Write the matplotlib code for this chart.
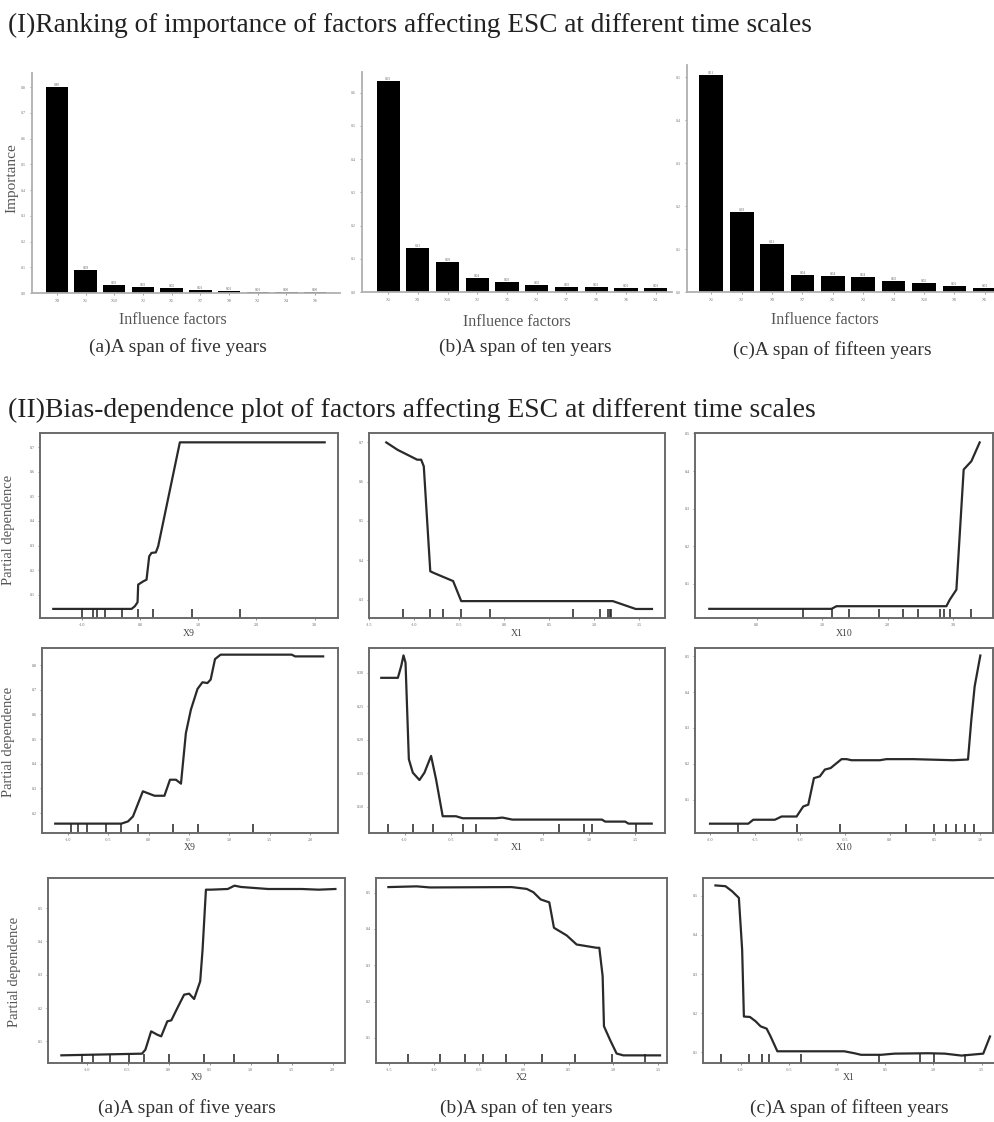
import numpy as np
import matplotlib.pyplot as plt

plt.rcParams['font.family'] = ['Liberation Serif', 'DejaVu Serif']

# ---- (I) importance bars ----
imp5_names = ['X9', 'X1', 'X10', 'X2', 'X5', 'X7', 'X8', 'X3', 'X4', 'X6']
imp5_vals = [0.80, 0.09, 0.030, 0.025, 0.021, 0.013, 0.008, 0.005, 0.004, 0.003]
imp10_names = ['X1', 'X9', 'X10', 'X2', 'X5', 'X3', 'X7', 'X8', 'X6', 'X4']
imp10_vals = [0.634, 0.132, 0.089, 0.042, 0.030, 0.020, 0.016, 0.014, 0.012, 0.012]
imp15_names = ['X1', 'X2', 'X9', 'X7', 'X5', 'X3', 'X4', 'X10', 'X8', 'X6']
imp15_vals = [0.505, 0.187, 0.113, 0.039, 0.037, 0.035, 0.025, 0.020, 0.014, 0.009]
imp_captions = ['(a)A span of five years', '(b)A span of ten years', '(c)A span of fifteen years']

# ---- (II) partial dependence curves ----
pd1a_x = [-1.486, -0.143, -0.086, -0.04, -0.029, 0.057, 0.114, 0.16, 0.2, 0.274, 0.314, 0.686, 3.171]
pd1a_y = [0.042, 0.042, 0.053, 0.069, 0.141, 0.154, 0.161, 0.256, 0.270, 0.272, 0.297, 0.720, 0.720]
pd1a_dec = [-1, -0.8, -0.743, -0.6, -0.314, -0.029, 0.217, 0.903, 1.714]

pd1b_x = [-1.308, -1.181, -0.964, -0.920, -0.891, -0.819, -0.783, -0.565, -0.475, -0.239, 0.304, 1.210, 1.464, 1.645]
pd1b_y = [0.700, 0.681, 0.656, 0.656, 0.639, 0.372, 0.368, 0.347, 0.296, 0.296, 0.296, 0.296, 0.276, 0.276]
pd1b_dec = [-1.127, -0.819, -0.674, -0.482, -0.159, 0.768, 1.072, 1.156, 1.174, 1.192]

pd1c_x = [-0.721, 1.142, 1.218, 2.893, 2.944, 3.046, 3.157, 3.274, 3.401]
pd1c_y = [0.034, 0.034, 0.041, 0.041, 0.058, 0.085, 0.404, 0.426, 0.476]
pd1c_dec = [0.701, 1.142, 1.411, 1.868, 2.234, 2.462, 2.792, 2.853, 2.954, 3.274]

pd2a_x = [-1.156, -0.336, -0.254, -0.193, -0.070, 0.074, 0.197, 0.266, 0.340, 0.402, 0.463,
          0.525, 0.607, 0.668, 0.730, 0.770, 0.824, 0.893, 1.775, 1.816, 2.164]
pd2a_y = [0.157, 0.157, 0.166, 0.186, 0.288, 0.270, 0.270, 0.335, 0.335, 0.319, 0.524,
          0.619, 0.703, 0.730, 0.727, 0.741, 0.824, 0.842, 0.842, 0.835, 0.835]
pd2a_dec = [-0.959, -0.869, -0.758, -0.529, -0.336, -0.131, 0.307, 0.619, 1.291]

pd2b_x = [-1.252, -1.072, -1.036, -1.011, -0.989, -0.953, -0.910, -0.838, -0.784, -0.712, -0.658, -0.586,
          -0.442, -0.370, -0.011, 0.061, 0.169, 0.709, 1.140, 1.176, 1.392, 1.428, 1.680]
pd2b_y = [0.2925, 0.2925, 0.310, 0.326, 0.315, 0.171, 0.151, 0.140, 0.151, 0.176, 0.141, 0.086,
          0.086, 0.083, 0.083, 0.084, 0.081, 0.081, 0.081, 0.078, 0.078, 0.075, 0.075]
pd2b_dec = [-1.180, -0.910, -0.687, -0.370, -0.227, 0.680, 0.942, 1.032, 1.507]

pd2c_x = [-2.0, -1.574, -1.519, -1.278, -1.204, -1.037, -0.963, -0.907, -0.844, -0.778, -0.722, -0.659,
          -0.537, -0.481, -0.426, -0.111, -0.037, 0.259, 0.704, 0.870, 0.907, 0.944, 1.007]
pd2c_y = [0.033, 0.033, 0.044, 0.044, 0.053, 0.053, 0.081, 0.086, 0.160, 0.165, 0.184, 0.188,
          0.213, 0.213, 0.210, 0.210, 0.213, 0.213, 0.210, 0.212, 0.323, 0.416, 0.502]
pd2c_dec = [-1.685, -1.030, -0.556, 0.178, 0.489, 0.630, 0.733, 0.833, 0.933]

pd3a_x = [-1.307, -0.324, -0.283, -0.213, -0.139, -0.090, -0.016, 0.033, 0.107, 0.189, 0.250, 0.311,
          0.385, 0.414, 0.455, 0.516, 0.721, 0.803, 0.885, 1.213, 1.623, 1.828, 2.033]
pd3a_y = [0.058, 0.063, 0.075, 0.130, 0.120, 0.115, 0.160, 0.163, 0.200, 0.240, 0.243, 0.227,
          0.280, 0.375, 0.555, 0.555, 0.557, 0.567, 0.563, 0.557, 0.557, 0.555, 0.557]
pd3a_dec = [-1.061, -0.926, -0.713, -0.488, -0.303, 0.004, 0.434, 0.803, 1.336]

pd3b_x = [-1.511, -1.195, -1.046, -0.136, 0.032, 0.106, 0.188, 0.284, 0.336, 0.478, 0.589, 0.812,
          0.842, 0.879, 0.894, 0.961, 1.035, 1.110, 1.519]
pd3b_y = [0.515, 0.517, 0.514, 0.515, 0.510, 0.501, 0.481, 0.473, 0.403, 0.382, 0.357, 0.348,
          0.348, 0.270, 0.132, 0.095, 0.057, 0.052, 0.052]
pd3b_dec = [-1.288, -0.935, -0.656, -0.452, -0.199, 0.199, 0.571, 0.980, 1.351]

pd3c_x = [-1.260, -1.156, -1.087, -1.017, -0.983, -0.965, -0.903, -0.844, -0.792, -0.729, -0.688, -0.618,
          -0.375, 0.076, 0.181, 0.250, 0.458, 0.597, 0.944, 1.118, 1.292, 1.517, 1.587]
pd3c_y = [0.527, 0.525, 0.512, 0.495, 0.362, 0.191, 0.190, 0.179, 0.166, 0.160, 0.140, 0.102,
          0.102, 0.102, 0.097, 0.093, 0.093, 0.096, 0.097, 0.096, 0.091, 0.096, 0.140]
pd3c_dec = [-1.198, -0.913, -0.774, -0.705, -0.375, 0.441, 0.858, 1.007, 1.326]

pd_features = [['X9', 'X1', 'X10'], ['X9', 'X1', 'X10'], ['X9', 'X2', 'X1']]

W, H = 995, 1122
fig = plt.figure(figsize=(W / 100, H / 100), dpi=100)


def px_axes(l, t, r, b):
    return fig.add_axes([l / W, 1 - b / H, (r - l) / W, (b - t) / H])


def tx(x, y, s, **kw):
    fig.text(x / W, 1 - y / H, s, **kw)


tx(8, 25, '(I)Ranking of importance of factors affecting ESC at different time scales',
   fontsize=19.6, color='#222222', va='center', ha='left')
tx(8, 410, '(II)Bias-dependence plot of factors affecting ESC at different time scales',
   fontsize=19.9, color='#222222', va='center', ha='left')

# bar panels
bar_boxes = [(32, 73, 340, 293), (362, 72, 672, 292), (687, 65, 1000, 292)]
bar_xlims = [(-0.87, 9.87), (-0.88, 9.55), (-0.8, 9.5)]
bar_ylims = [(0, 0.855), (0, 0.662), (0, 0.529)]
bar_ytops = [0.8, 0.6, 0.5]
bar_data = [(imp5_names, imp5_vals), (imp10_names, imp10_vals), (imp15_names, imp15_vals)]
xlab_pos = [(173, 320), (517, 322), (825, 320)]
cap_pos = [(178, 347), (525, 347), (832, 350)]

for i, (names, vals) in enumerate(bar_data):
    ax = px_axes(*bar_boxes[i])
    xs = np.arange(len(vals))
    ax.bar(xs, vals, width=0.78, color='black')
    for xv, v in zip(xs, vals):
        ax.text(xv, v, f'{v:.2f}', ha='center', va='bottom', fontsize=2.5, color='#666666')
    ax.set_xlim(*bar_xlims[i])
    ax.set_ylim(*bar_ylims[i])
    ax.set_xticks(xs)
    ax.set_xticklabels(names)
    ax.set_yticks(np.arange(0, bar_ytops[i] + 0.001, 0.1))
    ax.yaxis.set_major_formatter(plt.FormatStrFormatter('%.1f'))
    ax.tick_params(labelsize=3, length=1.5, width=0.5, colors='#777777', pad=3)
    for s in ['top', 'right']:
        ax.spines[s].set_visible(False)
    for s in ['left', 'bottom']:
        ax.spines[s].set_color('#b0b0b0')
        ax.spines[s].set_linewidth(1.3)
    tx(*xlab_pos[i], 'Influence factors', fontsize=11.5, color='#555555', ha='center', va='center')
    tx(*cap_pos[i], imp_captions[i], fontsize=14, color='#333333', ha='center', va='center')

tx(12, 178, 'Importance', fontsize=11, color='#555555', rotation=90, ha='center', va='center')

# partial dependence panels
pd_rows = [
    [(pd1a_x, pd1a_y, pd1a_dec), (pd1b_x, pd1b_y, pd1b_dec), (pd1c_x, pd1c_y, pd1c_dec)],
    [(pd2a_x, pd2a_y, pd2a_dec), (pd2b_x, pd2b_y, pd2b_dec), (pd2c_x, pd2c_y, pd2c_dec)],
    [(pd3a_x, pd3a_y, pd3a_dec), (pd3b_x, pd3b_y, pd3b_dec), (pd3c_x, pd3c_y, pd3c_dec)],
]
pd_boxes = [
    [(40, 433, 338, 618), (369, 433, 665, 618), (695, 433, 993, 618)],
    [(42, 648, 338, 833), (369, 648, 665, 833), (695, 648, 993, 833)],
    [(48, 878, 345, 1063), (376, 878, 667, 1063), (703, 878, 995, 1063)],
]
pd_xlims = [
    [(-1.714, 3.4), (-1.442, 1.79), (-0.939, 3.604)],
    [(-1.32, 2.348), (-1.385, 1.824), (-2.167, 1.148)],
    [(-1.47, 2.15), (-1.649, 1.597), (-1.389, 1.639)],
]
pd_ylims = [
    [(0.005, 0.758), (0.253, 0.724), (0.0097, 0.501)],
    [(0.119, 0.869), (0.061, 0.337), (0.007, 0.523)],
    [(0.035, 0.590), (0.031, 0.540), (0.072, 0.546)],
]
pd_xticks = [
    [[-1, 0, 1, 2, 3], [-1.5, -1.0, -0.5, 0.0, 0.5, 1.0, 1.5], [0, 1, 2, 3]],
    [[-1.0, -0.5, 0.0, 0.5, 1.0, 1.5, 2.0], [-1.0, -0.5, 0.0, 0.5, 1.0, 1.5], [-2.0, -1.5, -1.0, -0.5, 0.0, 0.5, 1.0]],
    [[-1.0, -0.5, 0.0, 0.5, 1.0, 1.5, 2.0], [-1.5, -1.0, -0.5, 0.0, 0.5, 1.0, 1.5], [-1.0, -0.5, 0.0, 0.5, 1.0, 1.5]],
]
pd_yticks = [
    [[0.1, 0.2, 0.3, 0.4, 0.5, 0.6, 0.7], [0.3, 0.4, 0.5, 0.6, 0.7], [0.1, 0.2, 0.3, 0.4, 0.5]],
    [[0.2, 0.3, 0.4, 0.5, 0.6, 0.7, 0.8], [0.10, 0.15, 0.20, 0.25, 0.30], [0.1, 0.2, 0.3, 0.4, 0.5]],
    [[0.1, 0.2, 0.3, 0.4, 0.5], [0.1, 0.2, 0.3, 0.4, 0.5], [0.1, 0.2, 0.3, 0.4, 0.5]],
]
ylab_pos = [(9, 530), (9, 742), (15, 972)]
pd_caps_y = 1108

for r in range(3):
    for c in range(3):
        xs, ys, dec = pd_rows[r][c]
        ax = px_axes(*pd_boxes[r][c])
        ax.plot(xs, ys, color='#2a2a2a', lw=1.6)
        ax.vlines(dec, 0, 0.05, transform=ax.get_xaxis_transform(), color='#222222', lw=1.1)
        ax.set_xlim(*pd_xlims[r][c])
        ax.set_ylim(*pd_ylims[r][c])
        ax.set_xticks(pd_xticks[r][c])
        ax.set_yticks(pd_yticks[r][c])
        fmt = '%.2f' if (r == 1 and c == 1) else '%.1f'
        ax.yaxis.set_major_formatter(plt.FormatStrFormatter(fmt))
        ax.xaxis.set_major_formatter(plt.FormatStrFormatter('%.1f'))
        ax.tick_params(labelsize=3, length=1.5, width=0.5, colors='#666666', pad=2)
        for s in ax.spines.values():
            s.set_color('#6a6a6a')
            s.set_linewidth(1.4)
        l, t, rr, b = pd_boxes[r][c]
        tx((l + rr) / 2, b + 15, pd_features[r][c], fontsize=7, color='#444444', ha='center', va='center')
    tx(*ylab_pos[r], 'Partial dependence', fontsize=10.5, color='#555555', rotation=90, ha='center', va='center')

tx(187, pd_caps_y, imp_captions[0], fontsize=14, color='#333333', ha='center', va='center')
tx(526, pd_caps_y, imp_captions[1], fontsize=14, color='#333333', ha='center', va='center')
tx(849, pd_caps_y, imp_captions[2], fontsize=14, color='#333333', ha='center', va='center')

fig.savefig('out.png', dpi=100)
